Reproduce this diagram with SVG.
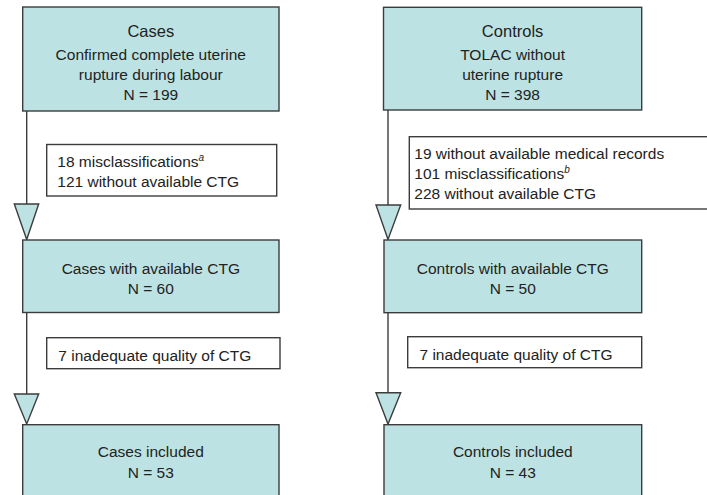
<svg xmlns="http://www.w3.org/2000/svg" width="707" height="495" viewBox="0 0 707 495">
<style>
.box{fill:#bde2e3;stroke:#3c3c3c;stroke-width:1.4}
.ex{fill:#ffffff;stroke:#3c3c3c;stroke-width:1.4}
.ln{fill:none;stroke:#3c3c3c;stroke-width:1.4}
.tri{fill:#bde2e3;stroke:#3c3c3c;stroke-width:1.4;stroke-linejoin:miter}
text{font-family:"Liberation Sans",Arial,sans-serif;fill:#222222;font-size:15.5px}
.c{text-anchor:middle}
.t{font-size:16.5px}
.s{font-size:10px;font-style:italic}
</style>
<rect width="707" height="495" fill="#ffffff"/>
<g id="connectors">
<line class="ln" x1="26.7" y1="111" x2="26.7" y2="204"/>
<polygon class="tri" points="14.3,204 38.7,204 26.7,239.5"/>
<line class="ln" x1="26.7" y1="312.5" x2="26.7" y2="394"/>
<polygon class="tri" points="14.3,394 38.7,394 26.7,424"/>
<line class="ln" x1="388" y1="110" x2="388" y2="205"/>
<polygon class="tri" points="376,205 400.7,205 388,239.5"/>
<line class="ln" x1="388" y1="312.7" x2="388" y2="392.7"/>
<polygon class="tri" points="376,392.7 400.7,392.7 388,424"/>
</g>
<g id="cases">
<rect class="box" x="22.7" y="7" width="256.3" height="104"/>
<text class="c t" x="150.8" y="37">Cases</text>
<text class="c" x="150.8" y="59.5">Confirmed complete uterine</text>
<text class="c" x="150.8" y="79.5">rupture during labour</text>
<text class="c" x="150.8" y="99.5">N = 199</text>
</g>
<g id="cases-excl1">
<rect class="ex" x="46.7" y="144.5" width="230" height="51.5"/>
<text x="57.3" y="166.5">18 misclassifications<tspan class="s" dy="-6">a</tspan></text>
<text x="57.3" y="186.5">121 without available CTG</text>
</g>
<g id="cases-ctg">
<rect class="box" x="22.7" y="240" width="256.3" height="72.5"/>
<text class="c" x="150.8" y="274">Cases with available CTG</text>
<text class="c" x="150.8" y="293.5">N = 60</text>
</g>
<g id="cases-excl2">
<rect class="ex" x="46.7" y="337.7" width="233.3" height="31"/>
<text x="58.3" y="360.5">7 inadequate quality of CTG</text>
</g>
<g id="cases-included">
<rect class="box" x="22.7" y="424.7" width="256.3" height="80"/>
<text class="c" x="150.8" y="457.3">Cases included</text>
<text class="c" x="150.8" y="478.3">N = 53</text>
</g>
<g id="controls">
<rect class="box" x="383.5" y="7.3" width="258.2" height="102.7"/>
<text class="c t" x="512.6" y="37">Controls</text>
<text class="c" x="512.6" y="59.5">TOLAC without</text>
<text class="c" x="512.6" y="80">uterine rupture</text>
<text class="c" x="512.6" y="99.5">N = 398</text>
</g>
<g id="controls-excl1">
<rect class="ex" x="409.3" y="136.7" width="302" height="72.3"/>
<text x="414.3" y="159.3">19 without available medical records</text>
<text x="414.3" y="179">101 misclassifications<tspan class="s" dy="-6">b</tspan></text>
<text x="414.3" y="199">228 without available CTG</text>
</g>
<g id="controls-ctg">
<rect class="box" x="384" y="240" width="257.7" height="72.7"/>
<text class="c" x="512.8" y="274">Controls with available CTG</text>
<text class="c" x="512.8" y="293.5">N = 50</text>
</g>
<g id="controls-excl2">
<rect class="ex" x="407.7" y="336.7" width="234" height="31"/>
<text x="419.5" y="359.5">7 inadequate quality of CTG</text>
</g>
<g id="controls-included">
<rect class="box" x="384" y="424.7" width="257.7" height="80"/>
<text class="c" x="512.8" y="457.3">Controls included</text>
<text class="c" x="512.8" y="478.3">N = 43</text>
</g>
</svg>
